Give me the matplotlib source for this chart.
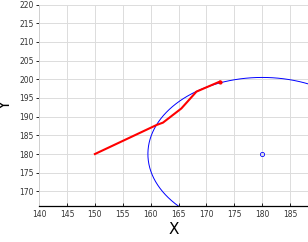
import numpy as np
import matplotlib.pyplot as plt

# path (red)
path_x = [150.0, 161.1, 162.2, 165.5, 168.2, 172.4]
path_y = [180.0, 187.8, 188.4, 192.2, 196.7, 199.4]

# circle (blue)
cx, cy = 180.0, 180.0
radius = 20.5

x_ticks = list(range(140, 190, 5))
y_ticks = list(range(170, 225, 5))

fig = plt.figure(figsize=(3.08, 2.42), dpi=100)
ax = fig.add_axes([0.127, 0.149, 0.873, 0.832])

t = np.linspace(0, 2 * np.pi, 400)
ax.plot(cx + radius * np.cos(t), cy + radius * np.sin(t), color='blue', linewidth=0.7)
ax.plot([cx], [cy], 'o', color='blue', markerfacecolor='none', markersize=3, markeredgewidth=0.6)
ax.plot(path_x, path_y, color='red', linewidth=1.5)
ax.plot(path_x[-1:], path_y[-1:], 'o', color='red', markersize=2)

ax.set_xticks(x_ticks)
ax.set_yticks(y_ticks)
ax.set_xlim(140, 188.2)
ax.set_ylim(166.1, 220)
ax.grid(True, color='#dcdcdc', linewidth=0.7)
ax.set_axisbelow(True)

for s in ['top', 'right']:
    ax.spines[s].set_visible(False)
ax.spines['left'].set_color('#d0d0d0')
ax.spines['left'].set_linewidth(0.7)
ax.spines['bottom'].set_color('black')
ax.spines['bottom'].set_linewidth(0.9)

ax.tick_params(axis='x', direction='in', length=2.5, width=0.6, labelsize=5.5, pad=3, labelcolor='#333333')
ax.tick_params(axis='y', direction='out', length=2, width=0.6, labelsize=5.5, pad=2, labelcolor='#333333')

ax.set_xlabel('X', fontsize=11, labelpad=2)
ax.set_ylabel('Y', fontsize=11, rotation=90, labelpad=4)

fig.savefig('out.png', dpi=100)
